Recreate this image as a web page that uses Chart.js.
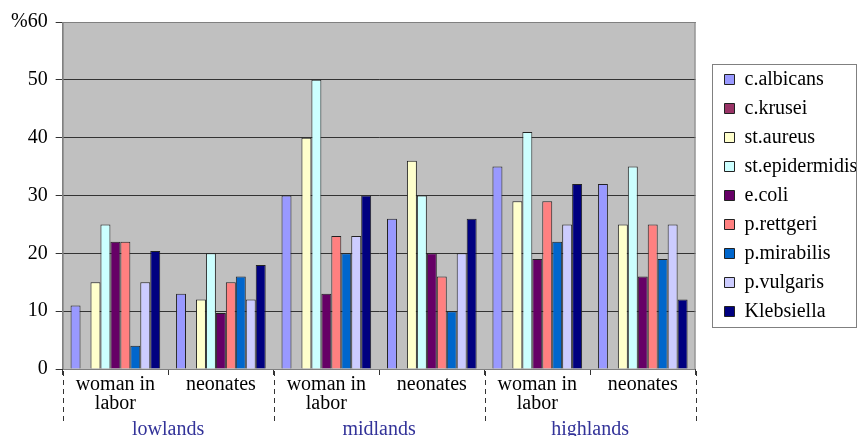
<!DOCTYPE html>
<html>
<head>
<meta charset="utf-8">
<script src="https://cdn.jsdelivr.net/npm/chart.js@4"></script>
<style>
  html, body { margin: 0; padding: 0; background: #fff; }
  #wrap { width: 858px; height: 436px; }
</style>
</head>
<body>
<div id="wrap"><canvas id="chart"></canvas></div>
<script>
// categories
const groups = [["woman in", "labor"], "neonates", ["woman in", "labor"], "neonates", ["woman in", "labor"], "neonates"];
const regions = ["lowlands", "midlands", "highlands"];

// series (lowlands WL, lowlands N, midlands WL, midlands N, highlands WL, highlands N)
const cAlbicans = [11, 13, 30, 26, 35, 32];
const cKrusei = [0, 0, 0, 0, 0, 0];
const stAureus = [15, 12, 40, 36, 29, 25];
const stEpidermidis = [25, 20, 50, 30, 41, 35];
const eColi = [22, 9.7, 13, 20, 19, 16];
const pRettgeri = [22, 15, 23, 16, 29, 25];
const pMirabilis = [4, 16, 20, 10, 22, 19];
const pVulgaris = [15, 12, 23, 20, 25, 25];
const klebsiella = [20.4, 18, 30, 26, 32, 12];

const yTicks = [0, 10, 20, 30, 40, 50, 60];

const FONT = "'Liberation Serif', 'Times New Roman', serif";

const series = [
  ["c.albicans", cAlbicans, "#9999FF"],
  ["c.krusei", cKrusei, "#993366"],
  ["st.aureus", stAureus, "#FFFFCC"],
  ["st.epidermidis", stEpidermidis, "#CCFFFF"],
  ["e.coli", eColi, "#660066"],
  ["p.rettgeri", pRettgeri, "#FF8080"],
  ["p.mirabilis", pMirabilis, "#0066CC"],
  ["p.vulgaris", pVulgaris, "#CCCCFF"],
  ["Klebsiella", klebsiella, "#000080"]
];

// plot background, plot frame, legend frame, dashed region separators
const decor = {
  id: "decor",
  beforeDraw(chart) {
    const { ctx, chartArea: a } = chart;
    ctx.save();
    ctx.fillStyle = "#C0C0C0";
    ctx.fillRect(a.left, a.top, a.right - a.left, a.bottom - a.top);
    ctx.restore();
  },
  afterDraw(chart) {
    const { ctx, chartArea: a } = chart;
    ctx.save();
    ctx.strokeStyle = "#808080";
    ctx.lineWidth = 1;
    ctx.strokeRect(a.left + 0.5, a.top + 0.5, a.right - a.left - 1, a.bottom - a.top);

    // legend frame
    const boxes = chart.legend.legendHitBoxes;
    if (boxes.length) {
      const last = boxes[boxes.length - 1];
      const top = boxes[0].top - 6;
      const bottom = last.top + last.height + 5;
      const left = boxes[0].left - 13;
      ctx.strokeStyle = "#808080";
      ctx.strokeRect(Math.round(left) + 0.5, Math.round(top) + 0.5, chart.width - Math.round(left) - 2, Math.round(bottom - top));
    }

    // dashed separators between regions
    const x = chart.scales.x;
    ctx.strokeStyle = "#333";
    ctx.setLineDash([5, 4]);
    for (let i = 0; i <= groups.length; i += 2) {
      const px = Math.round(x.getPixelForValue(i - 0.5)) + 0.5;
      ctx.beginPath();
      ctx.moveTo(px, a.bottom + 2);
      ctx.lineTo(px, a.bottom + 54);
      ctx.stroke();
    }
    ctx.restore();
  }
};

new Chart(document.getElementById("chart"), {
  type: "bar",
  data: {
    labels: groups,
    datasets: series.map(([label, data, color]) => ({
      label,
      data,
      backgroundColor: color,
      borderColor: "#222",
      borderWidth: 1,
      categoryPercentage: 0.85,
      barPercentage: 1
    }))
  },
  options: {
    responsive: true,
    maintainAspectRatio: false,
    animation: false,
    layout: { padding: { top: 22, left: 3, right: 0, bottom: -11 } },
    plugins: {
      tooltip: { enabled: false },
      legend: {
        position: "right",
        fullSize: false,
        labels: {
          font: { family: FONT, size: 20 },
          color: "#000",
          boxWidth: 10,
          boxHeight: 10,
          padding: 9
        }
      }
    },
    scales: {
      y: {
        min: 0,
        max: 60,
        afterBuildTicks(scale) { scale.ticks = yTicks.map(v => ({ value: v })); },
        ticks: {
          font: { family: FONT, size: 20 },
          color: "#000",
          padding: 8,
          callback: v => (v === 60 ? "%60" : v)
        },
        grid: { color: "#333", tickColor: "#333", tickLength: 7 },
        border: { color: "#808080" }
      },
      gap: {
        position: "right",
        display: true,
        ticks: { display: false },
        grid: { display: false, drawTicks: false },
        border: { display: false },
        afterFit(scale) { scale.width = 20; }
      },
      x: {
        ticks: {
          font: { family: FONT, size: 20, lineHeight: 0.95 },
          color: "#000",
          padding: 0,
          maxRotation: 0,
          autoSkip: false
        },
        grid: { offset: true, drawOnChartArea: false, tickColor: "#333", tickLength: 6 },
        border: { color: "#000" }
      },
      x2: {
        type: "category",
        labels: regions,
        position: "bottom",
        ticks: {
          font: { family: FONT, size: 20, lineHeight: 1.0 },
          color: "#333399",
          padding: 7,
          maxRotation: 0
        },
        grid: { display: false, drawTicks: false },
        border: { display: false }
      }
    }
  },
  plugins: [decor]
});
</script>
</body>
</html>
